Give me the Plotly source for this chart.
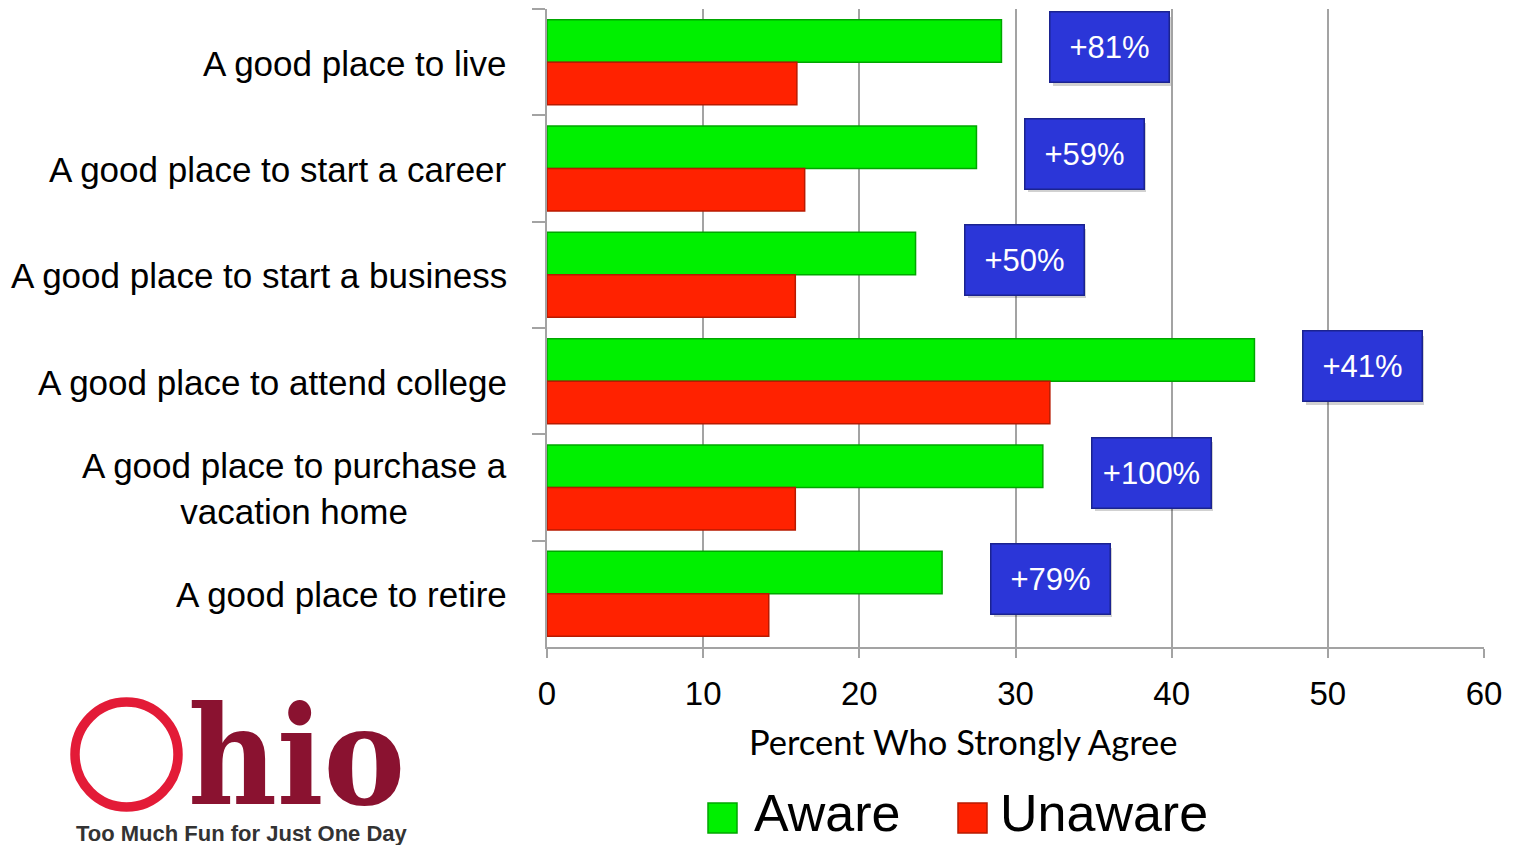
import plotly.graph_objects as go

# ---- data -------------------------------------------------------------
categories = [
    "A good place to live",
    "A good place to start a career",
    "A good place to start a business",
    "A good place to attend college",
    "A good place to purchase a vacation home",
    "A good place to retire",
]
tick_labels = [
    "A good place to live",
    "A good place to start a career",
    "A good place to start a business",
    "A good place to attend college",
    "A good place to purchase a<br>vacation home",
    "A good place to retire",
]
aware = [29.1, 27.5, 23.6, 45.3, 31.75, 25.3]
unaware = [16.0, 16.5, 15.9, 32.2, 15.9, 14.2]
lift_labels = ["+81%", "+59%", "+50%", "+41%", "+100%", "+79%"]
series_names = ["Aware", "Unaware"]
x_title = "Percent Who Strongly Agree"

# ---- page geometry ------------------------------------------------------
W, H = 1514, 845
ML, MR, MT, MB = 547, 30, 9, 198
PW, PH = W - ML - MR, H - MT - MB


def px(x):
    return (x - ML) / PW


def py(y):
    return (H - MB - y) / PH


SANS = "Liberation Sans, Arial, sans-serif"
GREEN, GREEN_EDGE = "#00f000", "#00a600"
RED, RED_EDGE = "#ff2200", "#b81a00"
GRID = "#a3a3a3"

fig = go.Figure()
fig.add_bar(y=categories, x=aware, orientation="h", name=series_names[0],
            marker=dict(color=GREEN, line=dict(color=GREEN_EDGE, width=1.5)))
fig.add_bar(y=categories, x=unaware, orientation="h", name=series_names[1],
            marker=dict(color=RED, line=dict(color=RED_EDGE, width=1.5)))

annotations = []

# category labels, centred line by line
for cat, lab in zip(categories, tick_labels):
    annotations.append(dict(
        text=lab, x=0, xref="paper", xshift=-38, xanchor="right",
        y=cat, yref="y", yanchor="middle", yshift=-1, align="center", showarrow=False,
        font=dict(family=SANS, size=35, color="#000000"),
    ))

# lift call-outs: a soft shadow first, then the blue box
for cat, val, lab in zip(categories, aware, lift_labels):
    annotations.append(dict(
        text=" ", x=val, xref="x", y=cat, yref="y", xanchor="left",
        xshift=52, yshift=11, showarrow=False, width=116, height=67,
        bgcolor="rgba(0,0,0,0.18)", borderwidth=0,
    ))
    annotations.append(dict(
        text=lab, x=val, xref="x", y=cat, yref="y", xanchor="left",
        xshift=48, yshift=15, showarrow=False, width=116, height=67,
        bgcolor="#2b36d8", bordercolor="#1b2390", borderwidth=1.5, borderpad=1,
        font=dict(family=SANS, size=31, color="#ffffff"),
    ))

# axis title
annotations.append(dict(
    text=x_title, x=px(963), y=py(741), xref="paper", yref="paper",
    xanchor="center", yanchor="middle", showarrow=False,
    font=dict(family="Lato, Open Sans, sans-serif", size=34.5, color="#000000"),
))

# legend
shapes = []
legend_items = [(series_names[0], GREEN, GREEN_EDGE, 708, 752),
                (series_names[1], RED, RED_EDGE, 958, 998)]
for name, col, edge, sx, tx in legend_items:
    shapes.append(dict(type="rect", xref="paper", yref="paper",
                       x0=px(sx), x1=px(sx + 29), y0=py(833), y1=py(803),
                       fillcolor=col, line=dict(color=edge, width=1.5)))
    annotations.append(dict(
        text=name, x=px(tx), y=py(844), xref="paper", yref="paper",
        xanchor="left", yanchor="bottom", showarrow=False,
        font=dict(family=SANS, size=52, color="#000000"),
    ))

# Ohio logo
shapes.append(dict(type="circle", xref="paper", yref="paper",
                   x0=px(75), x1=px(178), y0=py(807), y1=py(702),
                   line=dict(color="#e31b37", width=9.5), fillcolor="rgba(0,0,0,0)"))
annotations.append(dict(
    text="<b>hio</b>", x=px(186), y=py(756), xref="paper", yref="paper",
    xanchor="left", yanchor="middle", showarrow=False,
    font=dict(family="DejaVu Serif Condensed, DejaVu Serif, serif", size=136, color="#8a1230"),
))
annotations.append(dict(
    text="<b>Too Much Fun for Just One Day</b>", x=px(74), y=py(833),
    xref="paper", yref="paper", xanchor="left", yanchor="middle", showarrow=False,
    font=dict(family=SANS, size=22, color="#333333"),
))

fig.update_layout(
    width=W, height=H,
    margin=dict(l=ML, r=MR, t=MT, b=MB, pad=0),
    paper_bgcolor="#ffffff", plot_bgcolor="#ffffff",
    barmode="group", bargap=0.2, bargroupgap=0,
    showlegend=False,
    annotations=annotations, shapes=shapes,
    xaxis=dict(
        range=[0, 60], dtick=10, tick0=0,
        showgrid=True, gridcolor=GRID, gridwidth=2, zeroline=False,
        showline=True, linecolor=GRID, linewidth=2,
        ticks="outside", ticklen=9, tickwidth=2, tickcolor=GRID,
        tickfont=dict(family=SANS, size=33, color="#000000"),
        ticklabelstandoff=7,
    ),
    yaxis=dict(
        type="category", autorange="reversed",
        showgrid=False, zeroline=False, showticklabels=False,
        showline=True, linecolor=GRID, linewidth=2,
        ticks="outside", tickson="boundaries", ticklen=13, tickwidth=2, tickcolor=GRID,
    ),
)

fig.write_html("out.html")
